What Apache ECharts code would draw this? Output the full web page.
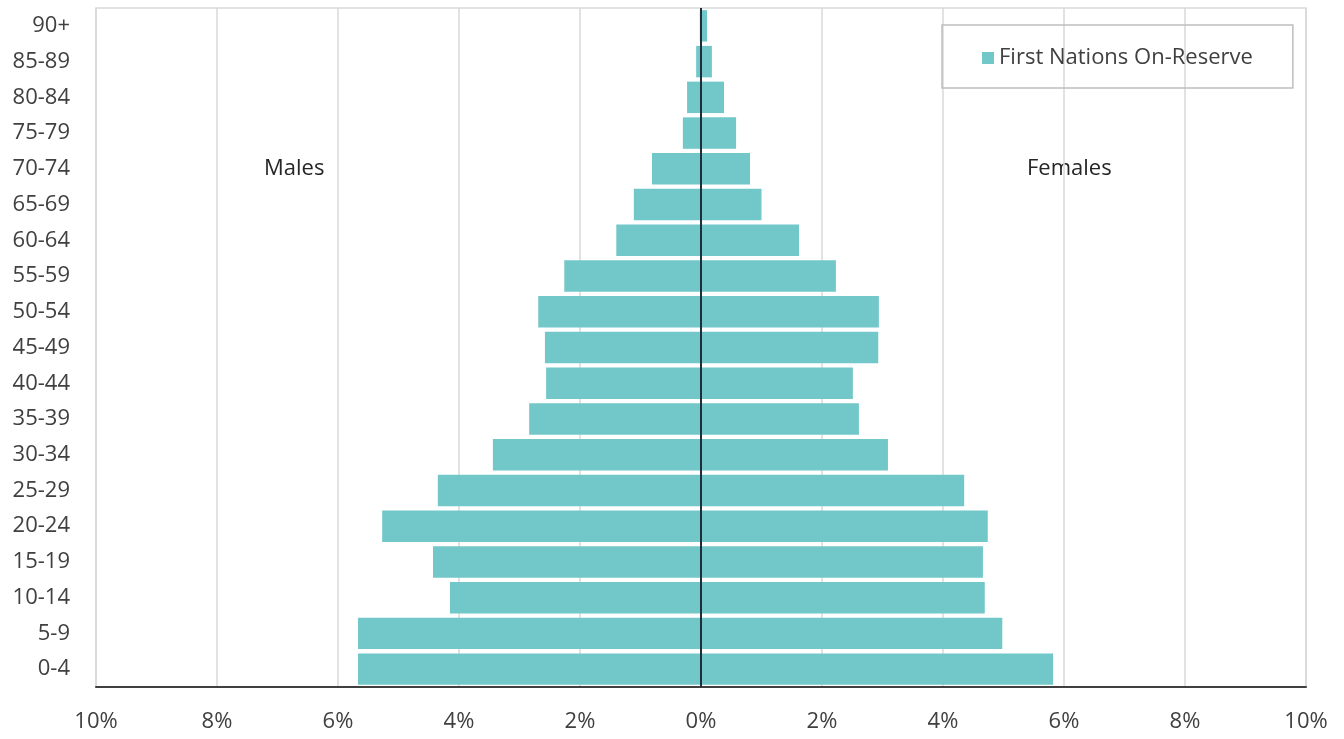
<!DOCTYPE html>
<html>
<head>
<meta charset="utf-8">
<script src="https://cdn.jsdelivr.net/npm/echarts@6/dist/echarts.min.js"></script>
<style>
html,body{margin:0;padding:0;background:#fff;}
#chart{width:1344px;height:739px;}
</style>
</head>
<body>
<div id="chart"></div>
<script>
const categories = ['0-4','5-9','10-14','15-19','20-24','25-29','30-34','35-39','40-44','45-49','50-54','55-59','60-64','65-69','70-74','75-79','80-84','85-89','90+'];
const males = [5.67, 5.67, 4.15, 4.43, 5.27, 4.35, 3.44, 2.84, 2.56, 2.58, 2.69, 2.26, 1.40, 1.11, 0.81, 0.30, 0.23, 0.08, 0.02];
const females = [5.82, 4.98, 4.69, 4.66, 4.74, 4.35, 3.09, 2.61, 2.51, 2.93, 2.94, 2.23, 1.62, 1.00, 0.81, 0.58, 0.38, 0.18, 0.10];
const seriesName = 'First Nations On-Reserve';
const xTicks = [-10, -8, -6, -4, -2, 0, 2, 4, 6, 8, 10];

const FONT = '"Open Sans", "Noto Sans", sans-serif';
const BAR = '#72c7c9';
const chart = echarts.init(document.getElementById('chart'));
chart.setOption({
  animation: false,
  backgroundColor: '#fff',
  textStyle: { fontFamily: FONT },
  grid: { left: 96, right: 38, top: 8, bottom: 52, show: true, borderColor: '#d9d9d9', borderWidth: 1.5 },
  legend: {
    data: [seriesName],
    left: 942, top: 25,
    padding: [22, 40, 19, 40],
    borderColor: '#bfbfbf', borderWidth: 1.5,
    icon: 'rect', itemWidth: 12, itemHeight: 12, itemGap: 8,
    textStyle: { fontSize: 22, color: '#404040', fontFamily: FONT }
  },
  xAxis: {
    type: 'value', min: xTicks[0], max: xTicks[xTicks.length - 1], interval: 2,
    axisLine: { show: true, onZero: false, lineStyle: { color: '#404040', width: 2 } },
    axisTick: { show: false },
    splitLine: { show: true, lineStyle: { color: '#d9d9d9', width: 1.5 } },
    axisLabel: { fontSize: 22, color: '#404040', margin: 24, formatter: v => Math.abs(v) + '%' }
  },
  yAxis: {
    type: 'category', data: categories,
    axisLine: { show: false },
    axisTick: { show: false },
    axisLabel: { fontSize: 22, color: '#404040', margin: 26 }
  },
  graphic: [
    { type: 'text', left: 264, top: 158, style: { text: 'Males', font: '22px ' + FONT, fill: '#262626' } },
    { type: 'text', left: 1027, top: 158, style: { text: 'Females', font: '22px ' + FONT, fill: '#262626' } }
  ],
  series: [
    {
      name: seriesName, type: 'bar', stack: 'pop',
      data: males.map(v => -v),
      barCategoryGap: '12%',
      itemStyle: { color: BAR },
      markLine: {
        silent: true, symbol: 'none', label: { show: false },
        lineStyle: { color: '#1f2f3a', width: 2, type: 'solid' },
        data: [{ xAxis: 0 }]
      },
      z: 2
    },
    {
      name: seriesName, type: 'bar', stack: 'pop',
      data: females,
      barCategoryGap: '12%',
      itemStyle: { color: BAR },
      z: 2
    }
  ]
});
</script>
</body>
</html>
